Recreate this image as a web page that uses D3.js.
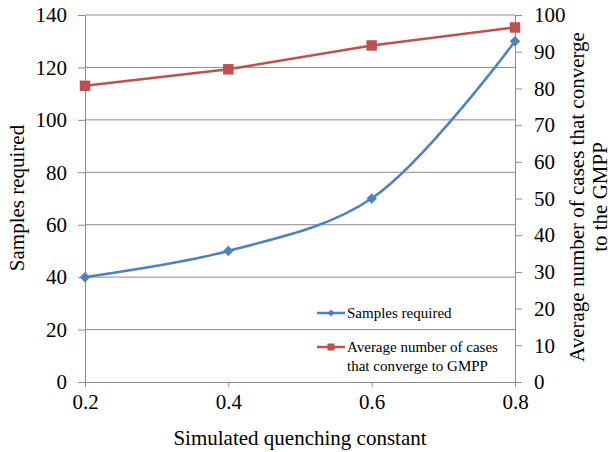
<!DOCTYPE html>
<html>
<head>
<meta charset="utf-8">
<script src="https://d3js.org/d3.v7.min.js"></script>
<style>
  body { margin: 0; background: #fff; }
  svg { display: block; }
</style>
</head>
<body>
<svg id="chart" width="608" height="452"></svg>
<script>
// data
const quenching = [0.2, 0.4, 0.6, 0.8];
const samplesRequired = [40, 50, 70, 130];
const avgConverge = [80.7, 85.2, 91.7, 96.6];
const leftTicks = [0, 20, 40, 60, 80, 100, 120, 140];
const rightTicks = [0, 10, 20, 30, 40, 50, 60, 70, 80, 90, 100];
const xTicks = [0.2, 0.4, 0.6, 0.8];

const blue = '#4F81BD', red = '#C0504D', grid = '#8c8c8c';
const serif = 'serif';
const big = 21;
const svg = d3.select('#chart');
const m = { left: 85, right: 515, top: 15, bottom: 382 };

const x = d3.scaleLinear().domain([0.2, 0.8]).range([m.left, m.right]);
const yL = d3.scaleLinear().domain([0, 140]).range([m.bottom, m.top]);
const yR = d3.scaleLinear().domain([0, 100]).range([m.bottom, m.top]);

// horizontal gridlines
svg.append('g').selectAll('line').data(leftTicks.slice(1)).join('line')
  .attr('x1', m.left).attr('x2', m.right)
  .attr('y1', d => yL(d)).attr('y2', d => yL(d))
  .attr('stroke', grid).attr('stroke-width', 1);

// axes
const styleAxis = g => {
  g.attr('font-family', null).attr('font-size', null);
  g.select('.domain').attr('stroke', grid);
  g.selectAll('.tick line').attr('stroke', grid);
  g.selectAll('.tick text').attr('fill', '#000')
    .attr('font-family', serif).attr('font-size', big);
};

svg.append('g').attr('transform', `translate(${m.left},0)`)
  .call(d3.axisLeft(yL).tickValues(leftTicks).tickSize(7).tickSizeOuter(0).tickPadding(11))
  .call(styleAxis);

svg.append('g').attr('transform', `translate(${m.right},0)`)
  .call(d3.axisRight(yR).tickValues(rightTicks).tickSize(7).tickSizeOuter(0).tickPadding(12))
  .call(styleAxis);

svg.append('g').attr('transform', `translate(0,${m.bottom})`)
  .call(d3.axisBottom(x).tickValues(xTicks).tickFormat(d3.format('.1f')).tickSize(5).tickSizeOuter(0).tickPadding(7))
  .call(styleAxis)
  .call(g => g.select('.domain').attr('d', `M${m.left - 7},0.5H${m.right}`));

// series lines
const blueLine = d3.line().x((d, i) => x(quenching[i])).y(d => yL(d)).curve(d3.curveCatmullRom.alpha(0.5));
const redLine = d3.line().x((d, i) => x(quenching[i])).y(d => yR(d));

svg.append('path').datum(samplesRequired).attr('d', blueLine)
  .attr('fill', 'none').attr('stroke', blue).attr('stroke-width', 2.5);
svg.append('path').datum(avgConverge).attr('d', redLine)
  .attr('fill', 'none').attr('stroke', red).attr('stroke-width', 2.5);

const diamond = d3.symbol().type(d3.symbolDiamond2).size(70);
const square = d3.symbol().type(d3.symbolSquare).size(110);

svg.append('g').selectAll('path').data(samplesRequired).join('path')
  .attr('d', diamond)
  .attr('transform', (d, i) => `translate(${x(quenching[i])},${yL(d)})`)
  .attr('fill', blue);
svg.append('g').selectAll('path').data(avgConverge).join('path')
  .attr('d', square)
  .attr('transform', (d, i) => `translate(${x(quenching[i])},${yR(d)})`)
  .attr('fill', red);

// axis titles
svg.append('text').attr('transform', 'translate(24,198) rotate(-90)')
  .attr('text-anchor', 'middle').attr('font-family', serif).attr('font-size', big)
  .text('Samples required');

const rt = svg.append('text').attr('transform', 'translate(584,197) rotate(-90)')
  .attr('text-anchor', 'middle').attr('font-family', serif).attr('font-size', big);
rt.append('tspan').attr('x', 0).attr('dy', 0).text('Average number of cases that converge');
rt.append('tspan').attr('x', 0).attr('dy', 23).text('to the GMPP');

svg.append('text').attr('x', 300).attr('y', 445).attr('text-anchor', 'middle')
  .attr('font-family', serif).attr('font-size', big).text('Simulated quenching constant');

// legend
const lg = svg.append('g');
const e1 = lg.append('g').attr('transform', 'translate(317,313)');
e1.append('line').attr('x1', 0).attr('x2', 28).attr('stroke', blue).attr('stroke-width', 2.5);
e1.append('path').attr('d', d3.symbol().type(d3.symbolDiamond2).size(30)).attr('transform', 'translate(14,0)').attr('fill', blue);
e1.append('text').attr('x', 30).attr('y', 5)
  .attr('font-family', serif).attr('font-size', 15).text('Samples required');

const e2 = lg.append('g').attr('transform', 'translate(317,347)');
e2.append('line').attr('x1', 0).attr('x2', 28).attr('stroke', red).attr('stroke-width', 2.5);
e2.append('path').attr('d', d3.symbol().type(d3.symbolSquare).size(50)).attr('transform', 'translate(14,0)').attr('fill', red);
const t2 = e2.append('text').attr('x', 30).attr('y', 5)
  .attr('font-family', serif).attr('font-size', 15);
t2.append('tspan').attr('x', 30).text('Average number of cases');
t2.append('tspan').attr('x', 30).attr('dy', 19).text('that converge to GMPP');
</script>
</body>
</html>
